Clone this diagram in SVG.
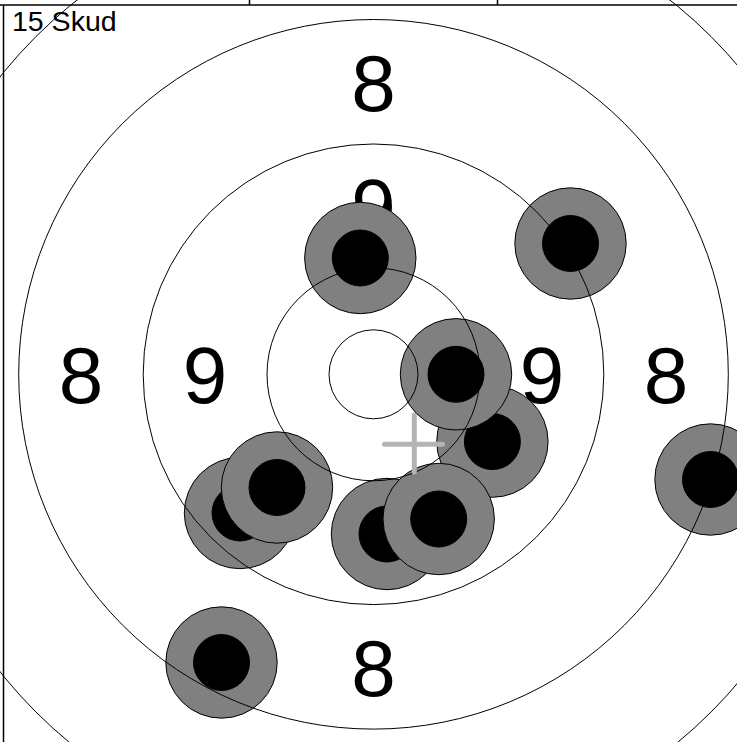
<svg xmlns="http://www.w3.org/2000/svg" width="737" height="742" viewBox="0 0 737 742">
<style>
.ring{fill:none;stroke:#000;stroke-width:1}
.lbl{font-family:"Liberation Sans",Arial,sans-serif;font-size:80px;fill:#000;text-anchor:middle}
.title{font-family:"Liberation Sans",Arial,sans-serif;font-size:28.5px;fill:#000}
.hole{fill:#808080;stroke:#000;stroke-width:1}
.core{fill:#000;stroke:#000;stroke-width:1}
.frame{stroke:#000;stroke-width:1.5;fill:none}
.cross{stroke:#b4b4b4;stroke-width:5;stroke-linecap:round;fill:none}
</style>
<defs>
<g id="shot"><circle class="hole" r="55.7"/><circle class="core" r="28"/></g>
</defs>
<rect width="737" height="742" fill="#fff"/>
<g id="frame">
<line class="frame" x1="0" y1="5" x2="737" y2="5"/>
<line class="frame" x1="3.5" y1="5" x2="3.5" y2="742"/>
<line class="frame" x1="249.5" y1="0" x2="249.5" y2="5"/>
<line class="frame" x1="497.5" y1="0" x2="497.5" y2="5"/>
</g>
<g id="labels">
<text class="lbl" x="373.5" y="111">8</text>
<text class="lbl" x="373.5" y="696">8</text>
<text class="lbl" x="81" y="402.5">8</text>
<text class="lbl" x="666" y="402.5">8</text>
<text class="lbl" x="205" y="402.5">9</text>
<text class="lbl" x="542" y="402.5">9</text>
<text class="lbl" x="373.5" y="235">9</text>
</g>
<g id="shots">
<use id="shot-1" href="#shot" x="360.3" y="258"/>
<use id="shot-2" href="#shot" x="570.5" y="243.5"/>
<use id="shot-4" href="#shot" x="492.4" y="441.6"/>
<use id="shot-3" href="#shot" x="456" y="374.3"/>
<use id="shot-5" href="#shot" x="710.5" y="479.5"/>
<use id="shot-6" href="#shot" x="240" y="513"/>
<use id="shot-7" href="#shot" x="277" y="487.5"/>
<use id="shot-8" href="#shot" x="387" y="534"/>
<use id="shot-9" href="#shot" x="438.7" y="519"/>
<use id="shot-10" href="#shot" x="221.5" y="662.5"/>
</g>
<g id="rings">
<circle class="ring" cx="373.5" cy="374.3" r="44.5"/>
<circle class="ring" cx="373.5" cy="374.3" r="106.5"/>
<circle class="ring" cx="373.5" cy="374.3" r="230.3"/>
<circle class="ring" cx="373.5" cy="374.3" r="354.8"/>
<circle class="ring" cx="373.5" cy="374.3" r="477.5"/>
</g>
<g id="aim">
<line class="cross" x1="414.3" y1="415" x2="414.3" y2="472"/>
<line class="cross" x1="384.5" y1="444.2" x2="442.5" y2="444.2"/>
</g>
<g id="title">
<text class="title" x="12" y="31">15 Skud</text>
</g>
<g id="connectors"/>
</svg>
